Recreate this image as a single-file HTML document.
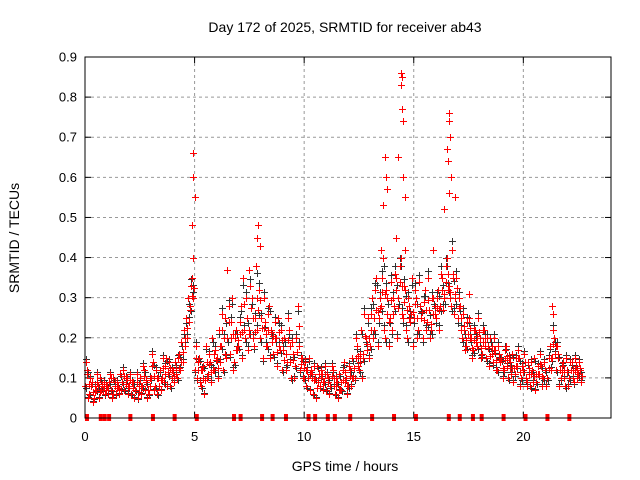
<!DOCTYPE html>
<html><head><meta charset="utf-8"><style>
body{margin:0;background:#fff;}
svg{display:block;font-family:"Liberation Sans",sans-serif;}
</style></head><body>
<svg id="chart" width="640" height="480">
<rect x="0" y="0" width="640" height="480" fill="#fff"/>
<text x="345" y="32" text-anchor="middle" font-size="14" fill="#000">Day 172 of 2025, SRMTID for receiver ab43</text>
<text x="345" y="471" text-anchor="middle" font-size="14" fill="#000">GPS time / hours</text>
<text transform="translate(19,238) rotate(-90)" text-anchor="middle" font-size="14" fill="#000">SRMTID / TECUs</text>
<g id="grid"></g>
<g id="ticks"></g>
<g id="black"></g>
<g id="red"></g>
<rect x="85" y="57" width="526" height="361" fill="none" stroke="#000" stroke-width="1"/>
</svg>
<script>
const xTicks=[0,5,10,15,20];
const yTicks=[0,0.1,0.2,0.3,0.4,0.5,0.6,0.7,0.8,0.9];
const redA=[0.08,0.12,0.06,0.09,0.05,0.07,0.08,0.1,0.07,0.06,
0.08,0.09,0.07,0.1,0.06,0.08,0.11,0.09,0.07,0.1,
0.08,0.06,0.09,0.07,0.05,0.1,0.08,0.12,0.09,0.06,
0.1,0.14,0.08,0.06,0.12,0.1,0.09,0.15,0.11,0.08,
0.12,0.14,0.1,0.16,0.19,0.22,0.25,0.3,0.28,0.35,
0.12,0.1,0.15,0.08,0.13,0.18,0.11,0.14,0.2,0.12,
0.15,0.22,0.18,0.12,0.25,0.2,0.16,0.3,0.14,0.22,
0.18,0.28,0.35,0.2,0.25,0.22,0.3,0.18,0.38,0.27,
0.2,0.15,0.24,0.18,0.28,0.22,0.16,0.2,0.25,0.17,
0.12,0.2,0.14,0.22,0.1,0.16,0.13,0.28,0.12,0.15,
0.1,0.08,0.15,0.12,0.06,0.1,0.13,0.08,0.11,0.09,
0.07,0.1,0.08,0.12,0.06,0.09,0.11,0.07,0.14,0.1,
0.08,0.12,0.15,0.1,0.18,0.12,0.22,0.15,0.2,0.25,
0.18,0.3,0.22,0.35,0.25,0.28,0.4,0.2,0.3,0.25,
0.22,0.28,0.35,0.3,0.4,0.25,0.32,0.2,0.28,0.35,
0.25,0.3,0.22,0.28,0.2,0.32,0.24,0.27,0.22,0.3,
0.25,0.32,0.28,0.35,0.3,0.4,0.33,0.28,0.36,0.3,
0.25,0.28,0.2,0.22,0.18,0.25,0.2,0.17,0.22,0.18,
0.2,0.16,0.22,0.15,0.18,0.2,0.14,0.17,0.12,0.16,
0.15,0.12,0.18,0.1,0.14,0.16,0.11,0.13,0.15,0.1,
0.12,0.1,0.14,0.08,0.12,0.15,0.09,0.11,0.13,0.1,
0.12,0.1,0.18,0.15,0.2,0.12,0.16,0.1,0.14,0.08,
0.12,0.1,0.14,0.09,0.13,0.11,0.12];
const redB=[0.14,0.05,0.1,0.04,0.08,0.11,0.05,0.07,0.09,0.08,
0.06,0.11,0.05,0.08,0.09,0.06,0.07,0.12,0.1,0.06,
0.11,0.09,0.05,0.11,0.08,0.06,0.13,0.07,0.05,0.1,
0.16,0.07,0.12,0.1,0.07,0.15,0.13,0.08,0.14,0.12,
0.09,0.11,0.15,0.12,0.14,0.18,0.2,0.24,0.33,0.3,
0.18,0.14,0.09,0.12,0.06,0.1,0.16,0.09,0.12,0.17,
0.1,0.14,0.26,0.2,0.15,0.28,0.24,0.12,0.2,0.17,
0.24,0.15,0.22,0.3,0.17,0.33,0.2,0.25,0.22,0.32,
0.25,0.3,0.18,0.26,0.15,0.19,0.24,0.13,0.18,0.22,
0.17,0.12,0.25,0.14,0.19,0.1,0.2,0.18,0.15,0.1,
0.14,0.12,0.07,0.1,0.13,0.05,0.09,0.12,0.07,0.13,
0.11,0.06,0.13,0.08,0.1,0.05,0.07,0.12,0.09,0.06,
0.13,0.08,0.1,0.2,0.13,0.16,0.1,0.26,0.17,0.15,
0.26,0.2,0.32,0.18,0.3,0.35,0.22,0.32,0.18,0.34,
0.3,0.36,0.2,0.38,0.26,0.33,0.22,0.3,0.24,0.18,
0.32,0.2,0.34,0.25,0.29,0.22,0.35,0.2,0.3,0.26,
0.3,0.22,0.36,0.27,0.38,0.32,0.3,0.42,0.26,0.35,
0.3,0.22,0.26,0.17,0.24,0.2,0.15,0.22,0.19,0.25,
0.15,0.22,0.18,0.2,0.13,0.16,0.2,0.12,0.18,0.14,
0.1,0.17,0.13,0.15,0.11,0.09,0.15,0.17,0.08,0.13,
0.16,0.08,0.11,0.14,0.09,0.07,0.13,0.16,0.08,0.14,
0.08,0.15,0.12,0.22,0.16,0.18,0.08,0.13,0.1,0.15,
0.08,0.14,0.1,0.15,0.1,0.14,0.09];
const spikeT=[4.95,4.95,5.0,4.9,4.95,7.9,7.85,7.5,13.7,13.75,13.8,13.6,14.4,14.45,14.4,14.45,14.5,14.3,14.5,14.6,16.6,16.6,16.65,16.5,16.55,16.7,16.6,16.9,16.4,21.3,21.35,14.2,14.6,17.5,6.5,13.5,15.9,8.0];
const spikeV=[0.66,0.6,0.55,0.48,0.4,0.48,0.45,0.37,0.65,0.6,0.57,0.53,0.86,0.85,0.83,0.77,0.74,0.65,0.6,0.55,0.76,0.74,0.7,0.67,0.64,0.6,0.56,0.55,0.52,0.28,0.26,0.45,0.42,0.31,0.37,0.42,0.42,0.43];
const zeroT=[0.09,0.72,0.9,1.1,2.07,3.1,4.09,5.1,6.8,7.1,8.08,8.56,9.17,10.2,10.5,11.08,11.4,12.1,13.1,14.1,15.1,16.6,17.1,17.7,18.1,19.1,20.1,21.1,22.1];

const NS='http://www.w3.org/2000/svg';
const xs=h=>85+h*(526/24);
const ys=v=>418-v*(361/0.9);
const grid=document.getElementById('grid'),ticks=document.getElementById('ticks');
function mk(t,a,p){const e=document.createElementNS(NS,t);for(const k in a)e.setAttribute(k,a[k]);p.appendChild(e);return e;}
xTicks.forEach(t=>{
 const x=xs(t);
 if(t>0){const g=mk('line',{x1:x,x2:x,y1:57,y2:418,stroke:'#999','stroke-dasharray':'3,3'},grid);
 
 }
 mk('line',{x1:x,x2:x,y1:418,y2:412,stroke:'#000'},ticks);
 mk('line',{x1:x,x2:x,y1:57,y2:63,stroke:'#000'},ticks);
 const l=mk('text',{x:x,y:441,'text-anchor':'middle','font-size':13},ticks);l.textContent=t;
 
 
});
yTicks.forEach(t=>{
 const y=ys(t);
 if(t>0&&t<0.9){const g=mk('line',{x1:85,x2:611,y1:y,y2:y,stroke:'#999','stroke-dasharray':'3,3'},grid);
 
 }
 mk('line',{x1:85,x2:91,y1:y,y2:y,stroke:'#000'},ticks);
 mk('line',{x1:611,x2:605,y1:y,y2:y,stroke:'#000'},ticks);
 const l=mk('text',{x:77,y:y+4.5,'text-anchor':'end','font-size':13},ticks);l.textContent=t.toFixed(1).replace('0.0','0');
 
 
});
function plus(g,h,v,c){
 const x=Math.round(xs(h))+0.5,y=Math.round(ys(v))+0.5;
 const p=mk('path',{d:`M${x-3.5} ${y}H${x+3.5}M${x} ${y-3.5}V${y+3.5}`,stroke:c,'stroke-width':1,fill:'none'},g);
 
 
}
const bl=document.getElementById('black'),rd=document.getElementById('red');
redB.forEach((v,i)=>plus(bl,i*0.1+0.05,v*1.05,'#333'));
redA.forEach((v,i)=>plus(bl,i*0.1+0.03,v*0.95,'#333'));
redA.forEach((v,i)=>plus(rd,i*0.1,v,'#f00'));
redB.forEach((v,i)=>plus(rd,i*0.1+0.05,v,'#f00'));
redA.forEach((v,i)=>plus(rd,i*0.1+0.07,(v+redB[i])/2,'#f00'));
spikeT.forEach((t,i)=>plus(rd,t,spikeV[i],'#f00'));
zeroT.forEach(t=>{
 const r=mk('rect',{x:xs(t)-2,y:414,width:4,height:7,fill:'#f00'},rd);
 
 
});
</script>
</body></html>
